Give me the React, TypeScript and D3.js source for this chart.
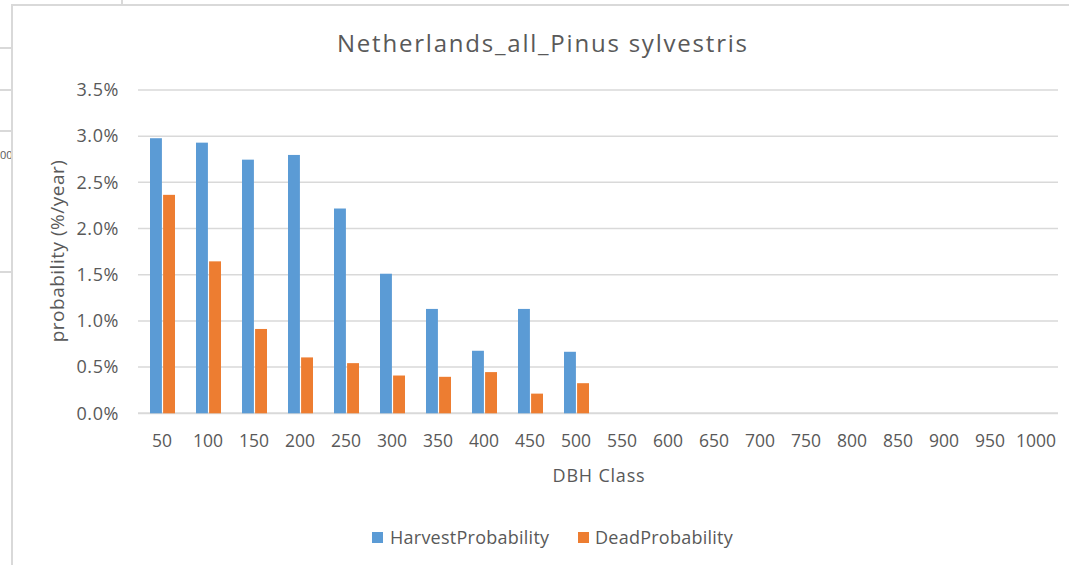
import React from "react";
import * as d3 from "d3";

const categories = ["50","100","150","200","250","300","350","400","450","500","550","600","650","700","750","800","850","900","950","1000"];
const harvestProbability = [0.02978,0.0293,0.02746,0.02797,0.02217,0.01511,0.0113,0.00677,0.0113,0.00666,0,0,0,0,0,0,0,0,0,0];
const deadProbability = [0.02365,0.01645,0.00913,0.00605,0.00543,0.00409,0.00395,0.00446,0.00213,0.00326,0,0,0,0,0,0,0,0,0,0];
const yTicks = [0,0.005,0.01,0.015,0.02,0.025,0.03,0.035];
const seriesNames = ["HarvestProbability","DeadProbability"];
const seriesColors = ["#5B9BD5","#ED7D31"];

const W = 1069, H = 565;
const FONT = "'Open Sans', 'Noto Sans', sans-serif";
const TXT = "#595959";

export default function App() {
  const x = d3.scaleBand<string>().domain(categories).range([138, 1058]);
  const y = d3.scaleLinear().domain([0, 0.035]).range([413.3, 90]);
  const inner = d3.scaleBand<number>().domain([0, 1]).range([12, 37]).paddingInner(0.09);
  const fmt = d3.format(".1%");
  const series = [harvestProbability, deadProbability];

  return (
    <svg width={W} height={H} style={{ position: "absolute", left: 0, top: 0, background: "#fff" }} fontFamily={FONT}>
      {/* background spreadsheet remnants */}
      <g stroke="#d9d9d9" strokeWidth={2}>
        {[48, 90, 131, 272].map((yy) => (
          <line key={yy} x1={0} x2={12} y1={yy} y2={yy} />
        ))}
        <line x1={122} x2={122} y1={0} y2={5} />
      </g>
      <text x={0} y={159} fontSize={11} fill={TXT}>00</text>
      {/* chart area */}
      <rect x={12} y={5} width={1070} height={575} fill="#fff" stroke="#d9d9d9" strokeWidth={2} />

      {/* title */}
      <text x={542} y={52} textAnchor="middle" fontSize={24} fill={TXT} textLength={410} lengthAdjust="spacing">Netherlands_all_Pinus sylvestris</text>

      {/* gridlines */}
      <g>
        {yTicks.map((t) => (
          <line key={t} x1={138} x2={1058} y1={y(t)} y2={y(t)} stroke="#d9d9d9" strokeWidth={t === 0 ? 2 : 1.5} />
        ))}
      </g>
      {/* y tick labels */}
      <g fontSize={18} fill={TXT} textAnchor="end" letterSpacing={0.6}>
        {yTicks.map((t) => (
          <text key={t} x={119} y={y(t)} dy="0.35em">{fmt(t)}</text>
        ))}
      </g>

      {/* bars */}
      {series.map((vals, si) => (
        <g key={si} fill={seriesColors[si]}>
          {vals.map((v, i) => (
            v > 0 ? (
              <rect
                key={i}
                x={(x(categories[i]) as number) + (inner(si) as number)}
                y={y(v)}
                width={inner.bandwidth()}
                height={y(0) - y(v)}
              />
            ) : null
          ))}
        </g>
      ))}

      {/* x labels */}
      <g fontSize={17.5} fill={TXT} textAnchor="middle">
        {categories.map((c) => (
          <text key={c} x={(x(c) as number) + x.bandwidth() / 2 + 1} y={447}>{c}</text>
        ))}
      </g>

      {/* axis titles */}
      <text x={599} y={482} textAnchor="middle" fontSize={18} letterSpacing={0.8} fill={TXT}>DBH Class</text>
      <text transform="translate(64,251) rotate(-90)" textAnchor="middle" fontSize={19} letterSpacing={0.5} fill={TXT}>probability (%/year)</text>

      {/* legend */}
      <g fontSize={18} fill={TXT} letterSpacing={0.25}>
        <rect x={372} y={532} width={11} height={11} fill={seriesColors[0]} />
        <text x={390} y={544}>{seriesNames[0]}</text>
        <rect x={578} y={532} width={11} height={11} fill={seriesColors[1]} />
        <text x={595} y={544}>{seriesNames[1]}</text>
      </g>
    </svg>
  );
}
